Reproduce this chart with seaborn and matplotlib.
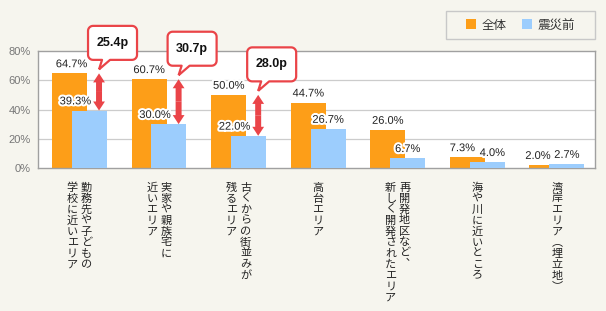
import numpy as np
import matplotlib
matplotlib.use("Agg")
import matplotlib.pyplot as plt
import matplotlib.transforms as mtransforms
import matplotlib.patheffects as pe
from matplotlib.path import Path
from matplotlib.patches import PathPatch, Rectangle
from matplotlib.lines import Line2D
import seaborn as sns

# data
categories = ["勤務先や子どもの\n学校に近いエリア", "実家や親族宅に\n近いエリア",
              "古くからの街並みが\n残るエリア", "高台エリア",
              "再開発地区など、\n新しく開発されたエリア", "海や川に近いところ",
              "湾岸エリア（埋立地）"]
overall = [64.7, 60.7, 50.0, 44.7, 26.0, 7.3, 2.0]
before = [39.3, 30.0, 22.0, 26.7, 6.7, 4.0, 2.7]
gap_groups = [0, 1, 2]
series_names = ["全体", "震災前"]
yticks = [0, 20, 40, 60, 80]

bg = "#f6f5ee"
c_orange = "#fd9e18"
c_blue = "#9ccdfd"
c_red = "#ea4448"
txt = "#222222"

sns.set_style("white")
plt.rcParams['font.family'] = ['Liberation Sans', 'Noto Sans CJK JP']

fig = plt.figure(figsize=(6.06, 3.11), dpi=100, facecolor=bg)
ax = fig.add_axes([38 / 606, 1 - 168 / 311, 557 / 606, 117 / 311])
ax.set_facecolor("white")

idx = np.arange(len(categories))
# orange bar sits left, blue bar overlaps it shifted right
sns.barplot(x=idx - 0.104, y=overall, native_scale=True, orient="x", width=0.44,
            color=c_orange, saturation=1, linewidth=0, ax=ax, zorder=2)
sns.barplot(x=idx + 0.146, y=before, native_scale=True, orient="x", width=0.44,
            color=c_blue, saturation=1, linewidth=0, ax=ax, zorder=3)

ax.set_xlim(-0.5, len(categories) - 0.5)
ax.set_ylim(0, 80)
ax.set_yticks(yticks)
ax.set_yticklabels([f"{v}%" for v in yticks], color="#777777", fontsize=8)
ax.set_xticks([])
ax.set_xlabel("")
ax.set_ylabel("")
ax.tick_params(axis="y", length=0, pad=5)
for v in yticks[1:-1]:
    ax.axhline(v, color="#cccccc", lw=0.9, zorder=1)
for s in ax.spines.values():
    s.set_color("#a0a0a0")
    s.set_linewidth(1.0)

halo = [pe.withStroke(linewidth=3, foreground="white")]
px = 0.72  # points per pixel at 100 dpi

# value labels (small nudges in pixels where the original moved them)
orange_shift = [2, 0, 0, 0, 0, -5, -9]
blue_shift = [-14, -14, -14, 0, 0, 5, 0]
for i in idx:
    ax.annotate(f"{overall[i]:.1f}%", xy=(i - 0.104, overall[i]),
                xytext=(orange_shift[i] * px, 3), textcoords="offset points",
                ha="center", va="bottom", fontsize=8, color=txt,
                path_effects=halo, zorder=6)
    ax.annotate(f"{before[i]:.1f}%", xy=(i + 0.146, before[i]),
                xytext=(blue_shift[i] * px, 3), textcoords="offset points",
                ha="center", va="bottom", fontsize=8, color=txt,
                path_effects=halo, zorder=6)

# vertical category labels (tategaki), one glyph at a time, first column on the right
vert = {"、": "︑", "（": "︵", "）": "︶"}
for i, lab in enumerate(categories):
    cols = lab.split("\n")
    n = len(cols)
    for j, col in enumerate(cols):
        dx = ((n - 1) / 2 - j) * 14
        for k, ch in enumerate(col):
            ax.annotate(vert.get(ch, ch), xy=(i + 0.02, 0),
                        xycoords=("data", "axes fraction"),
                        xytext=(dx * px, -(19.5 + 11 * k) * px),
                        textcoords="offset points", ha="center", va="center",
                        fontsize=8, color=txt, family=["Noto Sans CJK JP"],
                        annotation_clip=False)


# callout bubble with tail, drawn in pixels relative to its anchor
def bubble_verts(left=-11, w=49, lift=13.5, h=34, r=5, tip=4, b0=3, b1=11):
    x0, x1, y0, y1 = left, left + w, lift, lift + h
    def arc(cx, cy, a0, a1):
        t = np.radians(np.linspace(a0, a1, 8))
        return list(zip(cx + r * np.cos(t), cy + r * np.sin(t)))
    pts = [(0, tip), (b1, y0)]
    pts += arc(x1 - r, y0 + r, -90, 0)
    pts += arc(x1 - r, y1 - r, 0, 90)
    pts += arc(x0 + r, y1 - r, 90, 180)
    pts += arc(x0 + r, y0 + r, 180, 270)
    pts += [(b0, y0), (0, tip)]
    return np.array(pts), ((x0 + x1) / 2, (y0 + y1) / 2)


for i in gap_groups:
    xa = i + 0.267
    top, low = overall[i], before[i]
    mid = (top + low) / 2
    for end in (top, low):
        ax.annotate("", xy=(xa, end), xytext=(xa, mid),
                    arrowprops=dict(arrowstyle="simple,head_length=6.5,head_width=8.5,tail_width=4.3",
                                    mutation_scale=1, color=c_red, lw=0,
                                    shrinkA=0, shrinkB=0),
                    zorder=5, annotation_clip=False)
    verts, (cx, cy) = bubble_verts()
    trans = fig.dpi_scale_trans + mtransforms.ScaledTranslation(xa, top, ax.transData)
    patch = PathPatch(Path(verts / fig.dpi, closed=False), facecolor="white",
                      edgecolor=c_red, lw=1.6, transform=trans, clip_on=False,
                      zorder=7, joinstyle="round")
    ax.add_patch(patch)
    ax.annotate(f"{top - low:.1f}p", xy=(xa, top), xytext=(cx * px, cy * px),
                textcoords="offset points", ha="center", va="center",
                fontsize=9, fontweight="bold", color="#111111", zorder=8,
                annotation_clip=False)

# legend in its own framed box
fig.patches.append(Rectangle((446 / 606, 1 - 39 / 311), 149 / 606, 28 / 311,
                             transform=fig.transFigure, facecolor=bg,
                             edgecolor="#c8c8c8", lw=1.0))
handles = [Line2D([], [], ls="none", marker="s", markersize=7.5, color=c,
                  markeredgewidth=0, label=l)
           for c, l in zip([c_orange, c_blue], series_names)]
fig.legend(handles=handles, loc="center", bbox_to_anchor=(520.5 / 606, 1 - 25 / 311),
           ncol=2, frameon=False, handlelength=0.8, handletextpad=0.5,
           columnspacing=1.2, labelcolor="#333333", prop={"family": ["Noto Sans CJK JP"], "size": 9})

fig.savefig("out.png", dpi=100, facecolor=bg)
